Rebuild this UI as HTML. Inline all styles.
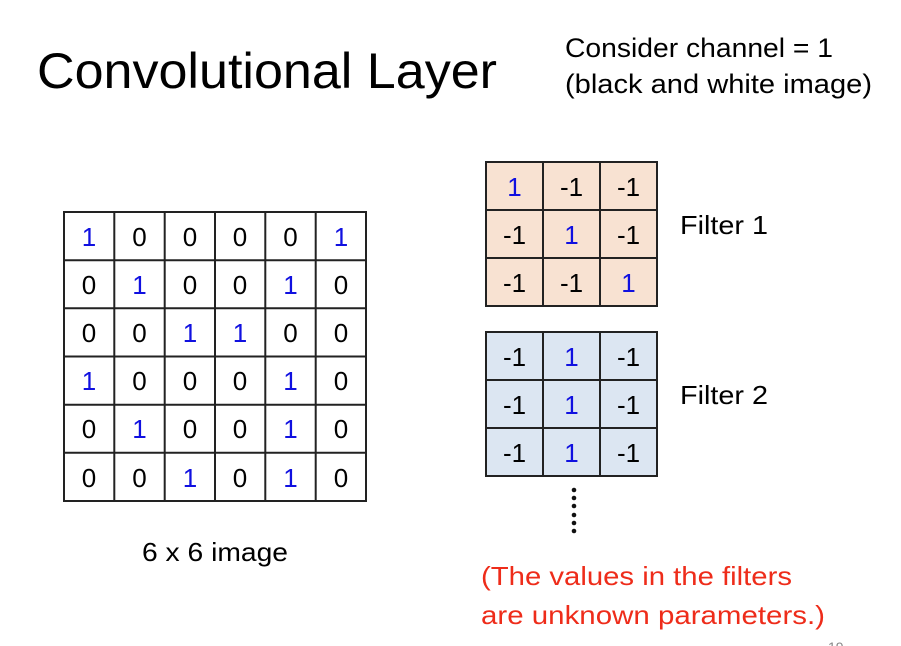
<!DOCTYPE html>
<html><head><meta charset="utf-8"><style>html,body{margin:0;padding:0;background:#fff}svg{display:block}</style></head><body>
<svg width="901" height="646" xmlns="http://www.w3.org/2000/svg" font-family="'Liberation Sans', sans-serif">
<text x="37" y="88" font-size="50" textLength="460" lengthAdjust="spacingAndGlyphs">Convolutional Layer</text>
<text x="565" y="57" font-size="27" textLength="268" lengthAdjust="spacingAndGlyphs">Consider channel = 1</text>
<text x="565" y="93" font-size="27" textLength="307" lengthAdjust="spacingAndGlyphs">(black and white image)</text>
<g font-size="26" text-anchor="middle">
<g id="grid">
<rect x="64" y="212" width="302" height="289" fill="#fff" stroke="#222" stroke-width="2"/>
<g stroke="#222" stroke-width="2">
<line x1="114.3" y1="212" x2="114.3" y2="501"/><line x1="164.7" y1="212" x2="164.7" y2="501"/><line x1="215" y1="212" x2="215" y2="501"/><line x1="265.3" y1="212" x2="265.3" y2="501"/><line x1="315.7" y1="212" x2="315.7" y2="501"/>
<line x1="64" y1="260.2" x2="366" y2="260.2"/><line x1="64" y1="308.3" x2="366" y2="308.3"/><line x1="64" y1="356.5" x2="366" y2="356.5"/><line x1="64" y1="404.7" x2="366" y2="404.7"/><line x1="64" y1="452.8" x2="366" y2="452.8"/>
</g>
</g>
<!-- rows: centers y 236,284,332,380,428,477 ; cols x 89,139.5,190,240,290.5,341 -->
<g>
<text x="89" y="246" fill="#1010e0">1</text><text x="139.5" y="246">0</text><text x="190" y="246">0</text><text x="240" y="246">0</text><text x="290.5" y="246">0</text><text x="341" y="246" fill="#1010e0">1</text>
<text x="89" y="294">0</text><text x="139.5" y="294" fill="#1010e0">1</text><text x="190" y="294">0</text><text x="240" y="294">0</text><text x="290.5" y="294" fill="#1010e0">1</text><text x="341" y="294">0</text>
<text x="89" y="342">0</text><text x="139.5" y="342">0</text><text x="190" y="342" fill="#1010e0">1</text><text x="240" y="342" fill="#1010e0">1</text><text x="290.5" y="342">0</text><text x="341" y="342">0</text>
<text x="89" y="390" fill="#1010e0">1</text><text x="139.5" y="390">0</text><text x="190" y="390">0</text><text x="240" y="390">0</text><text x="290.5" y="390" fill="#1010e0">1</text><text x="341" y="390">0</text>
<text x="89" y="438">0</text><text x="139.5" y="438" fill="#1010e0">1</text><text x="190" y="438">0</text><text x="240" y="438">0</text><text x="290.5" y="438" fill="#1010e0">1</text><text x="341" y="438">0</text>
<text x="89" y="487">0</text><text x="139.5" y="487">0</text><text x="190" y="487" fill="#1010e0">1</text><text x="240" y="487">0</text><text x="290.5" y="487" fill="#1010e0">1</text><text x="341" y="487">0</text>
</g>
<!-- Filter 1 -->
<rect x="486" y="162" width="171" height="144" fill="#f8e2d2" stroke="#222" stroke-width="2"/>
<g stroke="#222" stroke-width="2">
<line x1="543" y1="162" x2="543" y2="306"/><line x1="600" y1="162" x2="600" y2="306"/>
<line x1="486" y1="210" x2="657" y2="210"/><line x1="486" y1="258" x2="657" y2="258"/>
</g>
<text x="514.5" y="196" fill="#1010e0">1</text><text x="571.5" y="196">-1</text><text x="628.5" y="196">-1</text>
<text x="514.5" y="244">-1</text><text x="571.5" y="244" fill="#1010e0">1</text><text x="628.5" y="244">-1</text>
<text x="514.5" y="292">-1</text><text x="571.5" y="292">-1</text><text x="628.5" y="292" fill="#1010e0">1</text>
<!-- Filter 2 -->
<rect x="486" y="332" width="171" height="144" fill="#dce6f2" stroke="#222" stroke-width="2"/>
<g stroke="#222" stroke-width="2">
<line x1="543" y1="332" x2="543" y2="476"/><line x1="600" y1="332" x2="600" y2="476"/>
<line x1="486" y1="380" x2="657" y2="380"/><line x1="486" y1="428" x2="657" y2="428"/>
</g>
<text x="514.5" y="366">-1</text><text x="571.5" y="366" fill="#1010e0">1</text><text x="628.5" y="366">-1</text>
<text x="514.5" y="414">-1</text><text x="571.5" y="414" fill="#1010e0">1</text><text x="628.5" y="414">-1</text>
<text x="514.5" y="462">-1</text><text x="571.5" y="462" fill="#1010e0">1</text><text x="628.5" y="462">-1</text>
</g>
<g fill="#111">
<circle cx="574" cy="490" r="2.3"/><circle cx="574" cy="498" r="2.3"/><circle cx="574" cy="506" r="2.3"/><circle cx="574" cy="515" r="2.3"/><circle cx="574" cy="523" r="2.3"/><circle cx="574" cy="531" r="2.3"/>
</g>
<text x="680" y="234" font-size="26" textLength="88" lengthAdjust="spacingAndGlyphs">Filter 1</text>
<text x="680" y="404" font-size="26" textLength="88" lengthAdjust="spacingAndGlyphs">Filter 2</text>
<text x="142" y="561" font-size="26" textLength="146" lengthAdjust="spacingAndGlyphs">6 x 6 image</text>
<text x="481" y="585" font-size="26" fill="#ee2c1a" textLength="311" lengthAdjust="spacingAndGlyphs">(The values in the filters</text>
<text x="481" y="624" font-size="26" fill="#ee2c1a" textLength="344" lengthAdjust="spacingAndGlyphs">are unknown parameters.)</text>
<text x="828" y="652" font-size="14" fill="#888">19</text>
</svg>
</body></html>
